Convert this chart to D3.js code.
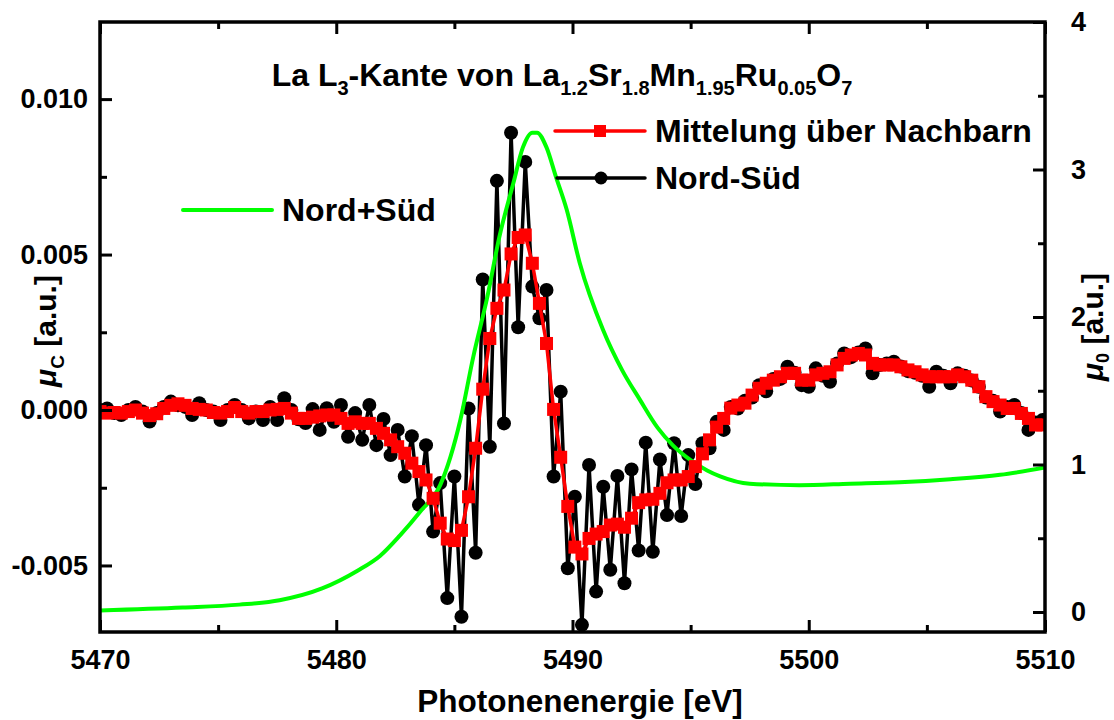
<!DOCTYPE html>
<html>
<head>
<meta charset="utf-8">
<script src="https://cdn.jsdelivr.net/npm/d3@7"></script>
<style>
  body { margin: 0; background: #fff; }
  text { font-family: "Liberation Sans", Arial, sans-serif; font-weight: bold; fill: #000; }
</style>
</head>
<body>
<svg id="chart" width="1114" height="720"></svg>
<script>
// Photon energy grid of the dichroism scan (0.3 eV steps)
const energyStart = 5470;
const energyStep = 0.3;

// Nord-Süd difference signal, in units of 1e-3 a.u.
const nordSued = [
  0.0, 0.05, -0.1, -0.16, 0.0, 0.1, -0.05, -0.37, -0.1, 0.1,
  0.27, 0.15, 0.1, -0.16, 0.22, 0.0, -0.05, -0.32, 0.0, 0.16,
  0.0, -0.27, -0.05, -0.32, 0.1, -0.32, 0.38, 0.0, -0.3, -0.42,
  0.03, -0.64, 0.06, -0.38, 0.16, -0.86, -0.1, -0.96, 0.16, -1.13,
  -0.29, -1.45, -0.64, -2.14, -0.84, -3.05, -1.13, -3.91, -2.35, -6.05,
  -2.14, -6.65, 0.05, -4.59, 4.2, -1.18, 7.37, -0.43, 8.92, 2.66,
  7.98, 3.97, 2.95, 3.86, -2.14, 0.59, -5.09, -2.79, -6.91, -1.77,
  -5.84, -2.47, -5.14, -2.12, -5.57, -1.91, -4.52, -1.05, -4.56, -1.59,
  -3.38, -1.07, -3.41, -1.45, -2.38, -1.07, -1.23, -0.38, -0.64, 0.1,
  0.05, 0.3, 0.4, 0.8, 0.6, 1.0, 1.0, 1.39, 1.2, 0.8,
  0.75, 1.34, 1.1, 0.91, 1.5, 1.82, 1.7, 1.85, 1.98, 1.18,
  1.45, 1.5, 1.55, 1.4, 1.25, 1.2, 1.1, 0.75, 1.23, 1.1,
  0.86, 1.18, 1.1, 0.95, 0.75, 0.4, 0.3, -0.05, 0.1, 0.16,
  -0.1, -0.64, -0.4, -0.32
];

// Neighbour-averaged signal, in units of 1e-3 a.u.
const mittelung = [
  -0.05, -0.1, -0.08, -0.1, -0.05, 0.0, -0.1, -0.18, -0.12, 0.05,
  0.15, 0.2, 0.15, 0.05, 0.02, 0.0, -0.08, -0.1, -0.05, 0.08,
  -0.05, -0.1, -0.05, -0.05, 0.0, 0.02, 0.05, -0.1, -0.27, -0.27,
  -0.23, -0.19, -0.16, -0.16, -0.27, -0.43, -0.38, -0.43, -0.43, -0.59,
  -0.75, -0.96, -1.18, -1.39, -1.71, -1.98, -2.25, -2.84, -3.64, -4.15,
  -4.2, -3.87, -2.79, -1.23, 0.67, 2.3, 3.27, 3.86, 5.02, 5.55,
  5.63, 4.72, 3.43, 2.14, 0.02, -1.52, -3.1, -4.41, -4.63, -4.13,
  -3.99, -3.91, -3.7, -3.67, -3.77, -3.48, -2.98, -2.89, -2.87, -2.68,
  -2.34, -2.25, -2.25, -2.14, -1.82, -1.41, -0.96, -0.55, -0.27, 0.06,
  0.16, 0.22, 0.48, 0.7, 0.86, 0.96, 1.07, 1.18, 1.18, 0.96,
  0.96, 1.13, 1.18, 1.23, 1.45, 1.66, 1.77, 1.82, 1.77, 1.5,
  1.45, 1.45, 1.45, 1.39, 1.29, 1.23, 1.13, 1.07, 1.07, 1.07,
  1.07, 1.13, 1.07, 0.96, 0.75, 0.43, 0.27, 0.16, 0.05, 0.05,
  -0.11, -0.27, -0.48, -0.48
];

// Nord+Süd absorption (right axis)
const sumEnergy = [
  5470.0, 5473.5, 5475.9, 5477.6, 5479.4, 5480.9, 5481.85, 5482.7, 5483.55, 5484.4,
  5485.25, 5485.8, 5486.4, 5486.9, 5487.5, 5487.9, 5488.3, 5488.5, 5488.9, 5489.3,
  5489.75, 5490.3, 5491.3, 5492.1, 5492.85, 5493.6, 5494.25, 5495.0, 5495.7, 5496.25,
  5497.5, 5499.6, 5501.75, 5503.85, 5506.0, 5508.1, 5510.0
];
const nordPlusSued = [
  0.01, 0.03, 0.05, 0.08, 0.16, 0.28, 0.38, 0.52, 0.68, 0.86,
  1.3, 1.73, 2.14, 2.54, 2.91, 3.15, 3.25, 3.25, 3.15, 2.95,
  2.73, 2.37, 1.91, 1.64, 1.44, 1.25, 1.13, 1.03, 0.96, 0.92,
  0.87, 0.86, 0.87, 0.88, 0.9, 0.93, 0.98
];

// Axis ticks
const xMajorTicks = [5470, 5480, 5490, 5500, 5510];
const xMinorTicks = [5475, 5485, 5495, 5505];
const leftTicks = [-5, 0, 5, 10];
const leftTickLabels = ["-0.005", "0.000", "0.005", "0.010"];
const leftMinorTicks = [-2.5, 2.5, 7.5];
const rightTicks = [0, 1, 2, 3, 4];
const rightMinorTicks = [0.5, 1.5, 2.5, 3.5];

const svg = d3.select("#chart");
const plot = { left: 100, right: 1045, top: 22, bottom: 632 };

const x = d3.scaleLinear().domain([5470, 5510]).range([plot.left, plot.right]);
const yL = d3.scaleLinear().domain([-7.14, 12.48]).range([plot.bottom, plot.top]);
const yR = d3.scaleLinear().domain([-0.1356, 4]).range([plot.bottom, plot.top]);

const energies = nordSued.map((_, i) => +(energyStart + i * energyStep).toFixed(2));
const diffData = energies.map((e, i) => ({ e, v: nordSued[i] }));
const avgData = energies.map((e, i) => ({ e, v: mittelung[i] }));
const sumData = sumEnergy.map((e, i) => ({ e, v: nordPlusSued[i] }));

svg.append("defs").append("clipPath").attr("id", "plotClip")
  .append("rect").attr("x", plot.left).attr("y", plot.top)
  .attr("width", plot.right - plot.left).attr("height", plot.bottom - plot.top);

const layer = svg.append("g").attr("clip-path", "url(#plotClip)");

// Nord-Süd: black line with circles
layer.append("path").datum(diffData)
  .attr("fill", "none").attr("stroke", "#000").attr("stroke-width", 3.5)
  .attr("stroke-linejoin", "round")
  .attr("d", d3.line().x(d => x(d.e)).y(d => yL(d.v)));
layer.append("g").selectAll("circle").data(diffData).join("circle")
  .attr("cx", d => x(d.e)).attr("cy", d => yL(d.v)).attr("r", 7).attr("fill", "#000");

// Nord+Süd: green absorption curve
layer.append("path").datum(sumData)
  .attr("fill", "none").attr("stroke", "#00ff00").attr("stroke-width", 4)
  .attr("d", d3.line().curve(d3.curveMonotoneX).x(d => x(d.e)).y(d => yR(d.v)));

// Averaged signal: red line with squares
layer.append("path").datum(avgData)
  .attr("fill", "none").attr("stroke", "#ff0000").attr("stroke-width", 3.5)
  .attr("stroke-linejoin", "round")
  .attr("d", d3.line().x(d => x(d.e)).y(d => yL(d.v)));
const sq = 13;
layer.append("g").selectAll("rect").data(avgData).join("rect")
  .attr("x", d => x(d.e) - sq / 2).attr("y", d => yL(d.v) - sq / 2)
  .attr("width", sq).attr("height", sq).attr("fill", "#ff0000");

// Axes (ticks point inward)
function styleAxis(g) {
  g.select(".domain").remove();
  g.selectAll(".tick line").attr("stroke", "#000").attr("stroke-width", 3);
  g.selectAll(".tick text").style("font-size", "27px")
    .style("font-family", '"Liberation Sans", Arial, sans-serif').style("font-weight", "bold");
}

svg.append("g").attr("transform", `translate(0,${plot.bottom})`)
  .call(d3.axisBottom(x).tickValues(xMajorTicks).tickSize(-12).tickPadding(18).tickFormat(d3.format("d")))
  .call(styleAxis);
svg.append("g").attr("transform", `translate(0,${plot.bottom})`)
  .call(d3.axisBottom(x).tickValues(xMinorTicks).tickSize(-7).tickFormat(""))
  .call(styleAxis);
svg.append("g").attr("transform", `translate(0,${plot.top})`)
  .call(d3.axisTop(x).tickValues(xMajorTicks).tickSize(-12).tickFormat(""))
  .call(styleAxis);
svg.append("g").attr("transform", `translate(0,${plot.top})`)
  .call(d3.axisTop(x).tickValues(xMinorTicks).tickSize(-7).tickFormat(""))
  .call(styleAxis);

svg.append("g").attr("transform", `translate(${plot.left},0)`)
  .call(d3.axisLeft(yL).tickValues(leftTicks).tickSize(-12).tickPadding(12)
    .tickFormat((d, i) => leftTickLabels[i]))
  .call(styleAxis);
svg.append("g").attr("transform", `translate(${plot.left},0)`)
  .call(d3.axisLeft(yL).tickValues(leftMinorTicks).tickSize(-7).tickFormat(""))
  .call(styleAxis);

svg.append("g").attr("transform", `translate(${plot.right},0)`)
  .call(d3.axisRight(yR).tickValues(rightTicks).tickSize(-12).tickPadding(26).tickFormat(d3.format("d")))
  .call(styleAxis);
svg.append("g").attr("transform", `translate(${plot.right},0)`)
  .call(d3.axisRight(yR).tickValues(rightMinorTicks).tickSize(-7).tickFormat(""))
  .call(styleAxis);

// Frame
svg.append("rect").attr("x", plot.left).attr("y", plot.top)
  .attr("width", plot.right - plot.left).attr("height", plot.bottom - plot.top)
  .attr("fill", "none").attr("stroke", "#000").attr("stroke-width", 3.5);

// Title with chemical formula subscripts
const titleParts = [
  ["La L", false], ["3", true], ["-Kante von La", false], ["1.2", true], ["Sr", false],
  ["1.8", true], ["Mn", false], ["1.95", true], ["Ru", false], ["0.05", true], ["O", false], ["7", true]
];
const title = svg.append("text").attr("x", 562).attr("y", 86)
  .attr("text-anchor", "middle").style("font-size", "32px");
let sub = false;
titleParts.forEach(([t, isSub]) => {
  const ts = title.append("tspan").text(t);
  if (isSub) ts.style("font-size", "20px");
  if (isSub && !sub) ts.attr("dy", 9);
  else if (!isSub && sub) ts.attr("dy", -9);
  sub = isSub;
});

// Axis titles
svg.append("text").attr("x", 580).attr("y", 712).attr("text-anchor", "middle")
  .style("font-size", "31.5px").text("Photonenenergie [eV]");

const leftTitle = svg.append("text")
  .attr("transform", "translate(56,331) rotate(-90)").attr("text-anchor", "middle")
  .style("font-size", "30px");
leftTitle.append("tspan").style("font-style", "italic").text("μ");
leftTitle.append("tspan").attr("dy", 8).style("font-size", "19px").text("C");
leftTitle.append("tspan").attr("dy", -8).text(" [a.u.]");

const rightTitle = svg.append("text")
  .attr("transform", "translate(1103,327) rotate(-90)").attr("text-anchor", "middle")
  .style("font-size", "30px");
rightTitle.append("tspan").style("font-style", "italic").text("μ");
rightTitle.append("tspan").attr("dy", 6).style("font-size", "18px").text("0");
rightTitle.append("tspan").attr("dy", -6).text(" [a.u.]");

// Legends
const legendItems = [
  { label: "Mittelung über Nachbarn", color: "#ff0000", marker: "square", x0: 555, x1: 645, y: 131 },
  { label: "Nord-Süd", color: "#000", marker: "circle", x0: 557, x1: 645, y: 178 },
  { label: "Nord+Süd", color: "#00ff00", marker: "none", x0: 183, x1: 272, y: 210 }
];
const lg = svg.append("g").selectAll("g").data(legendItems).join("g");
lg.append("line").attr("x1", d => d.x0).attr("x2", d => d.x1)
  .attr("y1", d => d.y).attr("y2", d => d.y)
  .attr("stroke", d => d.color).attr("stroke-width", d => d.marker === "none" ? 4 : 3.5)
  .attr("stroke-linecap", "round");
lg.filter(d => d.marker === "square").append("rect")
  .attr("x", d => (d.x0 + d.x1) / 2 - 6).attr("y", d => d.y - 6)
  .attr("width", 12).attr("height", 12).attr("fill", d => d.color);
lg.filter(d => d.marker === "circle").append("circle")
  .attr("cx", d => (d.x0 + d.x1) / 2).attr("cy", d => d.y).attr("r", 6.5).attr("fill", d => d.color);
lg.append("text").attr("x", d => d.x1 + 10).attr("y", d => d.y + 11)
  .style("font-size", "32px").text(d => d.label);
</script>
</body>
</html>
